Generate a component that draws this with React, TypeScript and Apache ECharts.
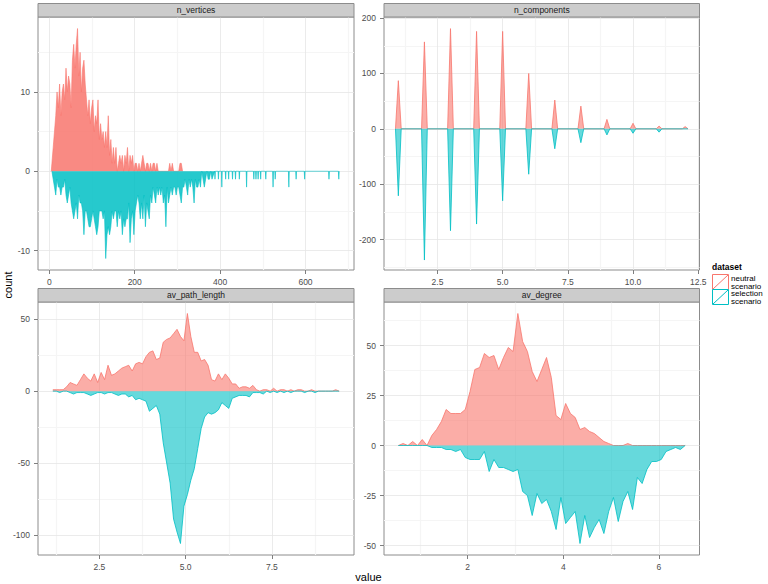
import React, { useEffect, useRef } from 'react';
import * as echarts from 'echarts';

const FONT = '"Liberation Sans", Arial, Helvetica, sans-serif';
const NEUTRAL_COLOR = '#F8766D';
const SELECTION_COLOR = '#00BFC4';

const facetNames = ['n_vertices', 'n_components', 'av_path_length', 'av_degree'];
const legendTitle = 'dataset';
const legendLabels = [['neutral', 'scenario'], ['selection', 'scenario']];
const xTitle = 'value';
const yTitle = 'count';

// ---------- n_vertices (bins of 3) ----------
const nvStep = 3;
const nvNeutralStart = 6;
const nvNeutral = [
  1, 3, 5, 7, 10, 8, 11, 7, 10, 11,
  9, 13, 10, 12, 11, 8, 14, 16, 13, 16,
  18, 12, 15, 10, 13, 14, 11, 9, 7, 9,
  6, 8, 9, 5, 7, 6, 9, 4, 6, 4,
  5, 3, 5, 3, 7, 2, 4, 1, 3, 1,
  3, 0, 1, 2, 1, 2, 0, 2, 1, 3,
  0, 2, 1, 2, 0, 1, 1, 0, 1, 0,
  1, 2, 1, 0, 1, 1, 0, 1, 0, 1,
  1, 0, 1, 0, 0, 0, 0, 0, 0, 0,
  0, 0, 1, 0, 1, 0, 0, 0, 0, 0,
  1, 1, 0,
];
const nvSelectionStart = 9;
const nvSelection = [
  -1, -2, -3, -1, -2, -2, -3, -2, -2, -1,
  -3, -4, -3, -2, -4, -5, -6, -5, -4, -6,
  -3, -4, -4, -5, -8, -5, -5, -6, -7, -7,
  -6, -5, -6, -7, -8, -7, -5, -5, -5, -6,
  -5, -11, -8, -7, -8, -7, -5, -6, -5, -5,
  -7, -5, -6, -5, -8, -6, -7, -6, -6, -4,
  -9, -6, -5, -8, -5, -4, -3, -4, -6, -4,
  -6, -3, -7, -4, -5, -6, -3, -4, -2, -3,
  -4, -2, -3, -2, -3, -2, -4, -3, -7, -2,
  -4, -3, -2, -3, -2, -2, -3, -2, -2, -3,
  -4, -2, -2, -1, -2, -3, -1, -2, -1, -2,
  -4, -1, -2, -2, -1, -2, 0, -1, -2, -1,
  0, -1, -1, 0, -1,
];
const nvSelectionTailX = [388, 396, 404, 413, 420, 429, 436, 445, 462, 479, 484, 489, 495, 507, 524, 529, 561, 578, 598, 655, 678];
const nvSelectionTailCount = [-1, -1, -2, -1, -1, -1, -1, -1, -2, -1, -1, -1, -1, -1, -2, -1, -2, -1, -1, -1, -1];
const nvLast = 680;

// ---------- n_components ----------
const ncValues = [1, 2, 3, 4, 5, 6, 7, 8, 9, 10, 11, 12];
const ncNeutral = [87, 157, 181, 176, 176, 100, 52, 41, 17, 10, 5, 4];
const ncSelection = [-121, -237, -184, -172, -130, -82, -36, -25, -11, -8, -6, 0];
const ncBinHalfWidth = 0.11;

// ---------- av_path_length (bins of 0.1 from 1.15) ----------
const aplStart = 1.15;
const aplStep = 0.1;
const aplNeutral = [
  1, 1, 1, 1, 3, 6, 5, 4, 8, 12,
  9, 7, 12, 6, 13, 8, 18, 11, 12, 14,
  16, 17, 18, 14, 19, 20, 19, 24, 27, 28,
  22, 23, 34, 36, 37, 40, 43, 38, 35, 54,
  38, 27, 27, 21, 22, 18, 8, 7, 12, 8,
  12, 9, 5, 5, 2, 3, 3, 2, 4, 1,
  0, 1, 1, 0, 2, 0, 1, 1, 0, 1,
  0, 1, 1, 0, 0, 1, 0, 0, 0, 0,
  0, 0, 1, 0,
];
const aplSelection = [
  0, 0, -1, 0, 0, -1, -2, -1, -1, -1,
  -2, -3, -2, -1, -1, -2, -1, -1, -2, -3,
  -2, -2, -4, -3, -6, -5, -6, -7, -14, -12,
  -10, -16, -36, -50, -64, -89, -98, -106, -80, -72,
  -62, -54, -40, -26, -18, -15, -16, -15, -13, -8,
  -10, -12, -5, -4, -3, -3, -3, -4, -1, -1,
  -1, -2, 0, -1, 0, -1, 0, -1, 0, -1,
  0, 0, 0, -1, 0, 0, -1, 0, 0, 0,
  0, 0, 0, 0,
];

// ---------- av_degree (bins of 0.1 from 0.55) ----------
const adStart = 0.55;
const adStep = 0.1;
const adNeutral = [
  0, 1, 0, 2, 0, 3, 0, 5, 8, 12,
  18, 16, 16, 16, 18, 27, 38, 39, 46, 44,
  45, 38, 44, 49, 47, 66, 52, 47, 37, 32,
  38, 44, 34, 15, 13, 21, 16, 14, 8, 9,
  7, 6, 4, 2, 1, 0, 0, 0, 1, 0,
  0, 0, 0, 0, 0, 0, 0, 0, 0, 0, 0,
];
const adSelection = [
  0, 0, 0, 0, 0, 0, 0, -1, -1, -1,
  -2, -2, -3, -2, -6, -7, -7, -7, -3, -13,
  -7, -11, -11, -12, -13, -12, -23, -25, -35, -24,
  -29, -27, -33, -42, -26, -39, -36, -33, -49, -35,
  -46, -41, -37, -44, -33, -26, -38, -28, -23, -32,
  -16, -19, -12, -8, -8, -7, -3, -2, -1, -2, 0,
];

// ---------- ticks ----------
const nvXTicks = [0, 200, 400, 600];
const nvXMinor = [100, 300, 500, 700];
const nvYTicks = [-10, 0, 10];
const nvYMinor = [-5, 5, 15];
const ncXTicks = [2.5, 5, 7.5, 10, 12.5];
const ncXMinor = [1.25, 3.75, 6.25, 8.75, 11.25];
const ncYTicks = [-200, -100, 0, 100, 200];
const ncYMinor = [-250, -150, -50, 50, 150];
const aplXTicks = [2.5, 5, 7.5];
const aplXMinor = [1.25, 3.75, 6.25, 8.75];
const aplYTicks = [-100, -50, 0, 50];
const aplYMinor = [-75, -25, 25];
const adXTicks = [2, 4, 6];
const adXMinor = [1, 3, 5];
const adYTicks = [-50, -25, 0, 25, 50];
const adYMinor = [-37.5, -12.5, 12.5, 37.5, 62.5];

// ---------- data builders ----------
const round = (v: number) => Math.round(v * 1000) / 1000;
const dense = (start: number, step: number, vals: number[]) =>
  vals.map((v, i) => [round(start + i * step), v]);

function nvNeutralData() {
  return [[nvNeutralStart - nvStep / 2, 0], ...dense(nvNeutralStart, nvStep, nvNeutral)];
}
function nvSelectionData() {
  const out: number[][] = [[nvSelectionStart - nvStep, 0], ...dense(nvSelectionStart, nvStep, nvSelection)];
  nvSelectionTailX.forEach((x, i) => {
    out.push([x - 1, 0], [x, nvSelectionTailCount[i]], [x + 1, 0]);
  });
  out.push([nvLast, 0]);
  return out;
}
function spikes(vals: number[]) {
  const out: number[][] = [];
  ncValues.forEach((k, i) => {
    out.push([round(k - ncBinHalfWidth), 0], [k, vals[i]], [round(k + ncBinHalfWidth), 0]);
  });
  return out;
}

export default function App() {
  const ref = useRef<HTMLDivElement>(null);
  useEffect(() => {
    document.body.style.margin = '0';
    const chart = echarts.init(ref.current!, null, { renderer: 'svg' });

    const fmt1 = (v: number) => Number(v).toFixed(1);
    const fmt0 = (v: number) => String(v);

    const panels = [
      {
        name: facetNames[0], box: { left: 38, top: 17, width: 316, height: 253 },
        x: [-26.6, 713.6], y: [-12.45, 19.45], xt: nvXTicks, xm: nvXMinor, yt: nvYTicks, ym: nvYMinor,
        xf: fmt0, neutral: nvNeutralData(), selection: nvSelectionData(), op: 0.85, lw: 0.6,
      },
      {
        name: facetNames[1], box: { left: 384, top: 17, width: 315.5, height: 253 },
        x: [0.45, 12.55], y: [-255, 202], xt: ncXTicks, xm: ncXMinor, yt: ncYTicks, ym: ncYMinor,
        xf: fmt1, neutral: spikes(ncNeutral), selection: spikes(ncSelection), op: 0.6, lw: 0.8,
      },
      {
        name: facetNames[2], box: { left: 38, top: 302, width: 316, height: 253 },
        x: [0.72, 9.88], y: [-114, 62], xt: aplXTicks, xm: aplXMinor, yt: aplYTicks, ym: aplYMinor,
        xf: fmt1, neutral: dense(aplStart, aplStep, aplNeutral), selection: dense(aplStart, aplStep, aplSelection), op: 0.6, lw: 0.8,
      },
      {
        name: facetNames[3], box: { left: 384, top: 302, width: 315.5, height: 253 },
        x: [0.25, 6.85], y: [-54.75, 71.75], xt: adXTicks, xm: adXMinor, yt: adYTicks, ym: adYMinor,
        xf: fmt0, neutral: dense(adStart, adStep, adNeutral), selection: dense(adStart, adStep, adSelection), op: 0.6, lw: 0.8,
      },
    ];

    const tickColor = '#7F7F7F';
    const labelColor = '#4D4D4D';
    const minorStyle = { color: '#F5F5F5', width: 1.2, type: 'solid' };
    const majorStyle = { color: '#E6E6E6', width: 0.8, type: 'solid' };

    const grid = panels.map((p) => ({
      ...p.box, show: true, backgroundColor: '#FFFFFF', borderColor: '#8C8C8C', borderWidth: 1, containLabel: false,
    }));
    const xAxis = panels.map((p, i) => ({
      type: 'value', gridIndex: i, min: p.x[0], max: p.x[1],
      axisLine: { show: false, onZero: false },
      axisTick: { show: true, customValues: p.xt, length: 4, lineStyle: { color: tickColor, width: 1 } },
      axisLabel: { show: true, customValues: p.xt, formatter: p.xf, color: labelColor, fontSize: 8.5, fontFamily: FONT, margin: 7 },
      splitLine: { show: false },
    }));
    const yAxis = panels.map((p, i) => ({
      type: 'value', gridIndex: i, min: p.y[0], max: p.y[1],
      axisLine: { show: false, onZero: false },
      axisTick: { show: true, customValues: p.yt, length: 4, lineStyle: { color: tickColor, width: 1 } },
      axisLabel: { show: true, customValues: p.yt, formatter: fmt0, color: labelColor, fontSize: 8.5, fontFamily: FONT, margin: 8 },
      splitLine: { show: false },
    }));

    const series: any[] = [];
    panels.forEach((p, i) => {
      const gridLines = [
        ...p.xm.map((v) => ({ xAxis: v, lineStyle: minorStyle })),
        ...p.ym.map((v) => ({ yAxis: v, lineStyle: minorStyle })),
        ...p.xt.map((v) => ({ xAxis: v, lineStyle: majorStyle })),
        ...p.yt.map((v) => ({ yAxis: v, lineStyle: majorStyle })),
      ];
      series.push({
        type: 'line', name: 'neutral scenario', xAxisIndex: i, yAxisIndex: i, data: p.neutral,
        symbol: 'none', showSymbol: false, silent: true, z: 2,
        lineStyle: { color: NEUTRAL_COLOR, width: p.lw },
        itemStyle: { color: NEUTRAL_COLOR },
        areaStyle: { color: NEUTRAL_COLOR, opacity: p.op, origin: 0 },
        markLine: { silent: true, symbol: ['none', 'none'], label: { show: false }, z: 1, animation: false, data: gridLines },
      });
      series.push({
        type: 'line', name: 'selection scenario', xAxisIndex: i, yAxisIndex: i, data: p.selection,
        symbol: 'none', showSymbol: false, silent: true, z: 3,
        lineStyle: { color: SELECTION_COLOR, width: p.lw },
        itemStyle: { color: SELECTION_COLOR },
        areaStyle: { color: SELECTION_COLOR, opacity: p.op, origin: 0 },
      });
    });

    const stripH = 13.5;
    const graphic: any[] = [];
    panels.forEach((p) => {
      graphic.push({
        type: 'rect', z: 10,
        shape: { x: p.box.left, y: p.box.top - stripH, width: p.box.width, height: stripH },
        style: { fill: '#CCCCCC', stroke: '#8C8C8C', lineWidth: 1 },
      });
      graphic.push({
        type: 'text', z: 11, x: p.box.left + p.box.width / 2, y: p.box.top - stripH / 2,
        style: { text: p.name, align: 'center', verticalAlign: 'middle', fontSize: 8.5, fontFamily: FONT, fill: '#1A1A1A' },
      });
    });
    graphic.push({
      type: 'text', x: 368.5, y: 577,
      style: { text: xTitle, align: 'center', verticalAlign: 'middle', fontSize: 11, fontFamily: FONT, fill: '#000' },
    });
    graphic.push({
      type: 'text', x: 8, y: 285, rotation: Math.PI / 2,
      style: { text: yTitle, align: 'center', verticalAlign: 'middle', fontSize: 11, fontFamily: FONT, fill: '#000' },
    });
    // legend
    graphic.push({
      type: 'text', x: 712, y: 267,
      style: { text: legendTitle, align: 'left', verticalAlign: 'middle', fontSize: 8.5, fontWeight: 'bold', fontFamily: FONT, fill: '#000' },
    });
    const keyColors = [NEUTRAL_COLOR, SELECTION_COLOR];
    keyColors.forEach((c, i) => {
      const ky = 274.5 + i * 15;
      graphic.push({
        type: 'rect', shape: { x: 712.5, y: ky, width: 16, height: 15 },
        style: { fill: '#FFFFFF', stroke: c, lineWidth: 1 },
      });
      graphic.push({
        type: 'line', shape: { x1: 713, y1: ky + 14.5, x2: 728, y2: ky + 0.5 },
        style: { stroke: c, lineWidth: 1 },
      });
      legendLabels[i].forEach((t, j) => {
        graphic.push({
          type: 'text', x: 731, y: ky + 4 + j * 7.5,
          style: { text: t, align: 'left', verticalAlign: 'middle', fontSize: 8, lineHeight: 7.4, fontFamily: FONT, fill: '#000' },
        });
      });
    });

    chart.setOption({
      animation: false,
      backgroundColor: '#FFFFFF',
      grid, xAxis, yAxis, series, graphic,
    });
    return () => chart.dispose();
  }, []);
  return <div ref={ref} style={{ width: 768, height: 584, position: 'absolute', left: 0, top: 0 }} />;
}
